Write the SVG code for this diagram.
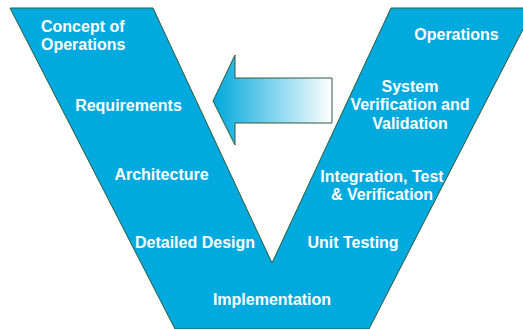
<svg xmlns="http://www.w3.org/2000/svg" width="523" height="329" viewBox="0 0 523 329">
<defs>
<linearGradient id="g" x1="0" y1="0" x2="1" y2="0">
<stop offset="0" stop-color="#00A8DC"/>
<stop offset="1" stop-color="#FFFFFF"/>
</linearGradient>
<style>
.t{font-family:"Liberation Sans",Arial,sans-serif;font-weight:bold;font-size:16px;fill:#FFFFFF}
.m{text-anchor:middle}
</style>
</defs>
<rect width="523" height="329" fill="#FFFFFF"/>
<g id="vee">
<polygon points="10,8 153,8 272,263 391,8 534,8 369,329 175,329" fill="#00AADF" stroke="#2E5A3E" stroke-width="1"/>
</g>
<g id="connectors">
<polygon points="213,101 235,55 235,78 332,78 332,123 235,123 235,145" fill="url(#g)" stroke="#2E5A3E" stroke-width="1"/>
</g>
<g id="concept"><text class="t" x="41" y="32">Concept of</text><text class="t" x="41" y="50">Operations</text></g>
<g id="requirements"><text class="t m" x="128.5" y="111">Requirements</text></g>
<g id="architecture"><text class="t m" x="161.5" y="180">Architecture</text></g>
<g id="detailed"><text class="t m" x="195" y="248">Detailed Design</text></g>
<g id="implementation"><text class="t m" x="272" y="305">Implementation</text></g>
<g id="unit"><text class="t m" x="353" y="248">Unit Testing</text></g>
<g id="integration"><text class="t m" x="382" y="182">Integration, Test</text><text class="t m" x="382" y="200">&amp; Verification</text></g>
<g id="system"><text class="t m" x="410" y="92">System</text><text class="t m" x="410" y="110">Verification and</text><text class="t m" x="410" y="129">Validation</text></g>
<g id="operations"><text class="t m" x="456.5" y="40">Operations</text></g>
</svg>
